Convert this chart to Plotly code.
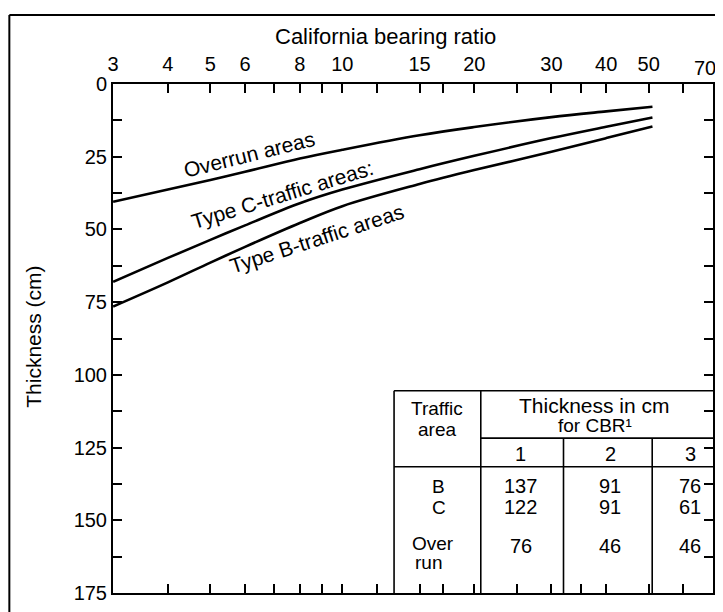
import math
import plotly.graph_objects as go

# ---------------- data ----------------
cbr = [3, 4, 5, 6, 8, 10, 15, 20, 30, 40, 51]
overrun = [40.5, 36.3, 33.0, 30.2, 25.6, 22.6, 17.6, 14.8, 11.4, 9.4, 7.8]
type_c = [68.0, 59.8, 53.6, 48.6, 41.0, 36.3, 29.3, 24.7, 18.6, 14.7, 11.5]
type_b = [76.5, 68.2, 61.4, 56.0, 47.8, 42.0, 34.4, 29.6, 23.3, 18.6, 14.6]

x_tickvals = [3, 4, 5, 6, 7, 8, 9, 10, 12, 15, 17, 20, 25, 30, 35, 40, 50, 60, 70]
x_labelled = [3, 4, 5, 6, 8, 10, 15, 20, 30, 40, 50, 70]
y_tickvals = [i * 12.5 for i in range(15)]
y_labelled = [0, 25, 50, 75, 100, 125, 150, 175]

table_areas = ["B", "C", "Over|run"]
table_cbr_cols = ["1", "2", "3"]
thick_cbr1 = [137, 122, 76]
thick_cbr2 = [91, 91, 46]
thick_cbr3 = [76, 61, 46]

# ---------------- layout helpers ----------------
# page (screenshot) pixel geometry; the page body adds an 8 px offset
OFF = 8
PAGE_W, PAGE_H = 723, 612
W, H = PAGE_W - OFF, PAGE_H - OFF
L, R, T, B = 113, 715, 84, 600  # plot area in page pixels


def px(x):
    return (x - L) / (R - L)


def py(y):
    return (B - y) / (B - T)


FONT = "Liberation Sans, Arial, sans-serif"

fig = go.Figure()
for ys in (overrun, type_c, type_b):
    fig.add_trace(go.Scatter(x=cbr, y=ys, mode="lines",
                             line=dict(color="black", width=2.6, shape="spline", smoothing=1.0),
                             showlegend=False, hoverinfo="skip"))

annotations = []


def txt(x, y, s, size=20, angle=0, xanchor="center"):
    annotations.append(dict(x=px(x), y=py(y), xref="paper", yref="paper", text=s,
                            showarrow=False, textangle=angle, xanchor=xanchor, yanchor="middle",
                            font=dict(size=size, family=FONT, color="black")))


# titles
txt(386, 36, "California bearing ratio", size=22)
annotations.append(dict(x=px(33), y=py(340), xref="paper", yref="paper", text="Thickness (cm)",
                        showarrow=False, textangle=-90, xanchor="center", yanchor="middle",
                        font=dict(size=21, family=FONT, color="black")))

# last top tick label sits against the right edge of the page: draw it nudged inward
last_label = x_labelled[-1]
txt(707, 68, str(last_label), size=20)

# curve labels
txt(249, 155, "Overrun areas", size=21, angle=-14)
txt(283, 196, "Type C-traffic areas:", size=21, angle=-17)
txt(318, 241, "Type B-traffic areas", size=21, angle=-18)

# table text
txt(438, 413, "Traffic", size=19)
txt(438, 434, "area", size=19)
txt(596, 410, "Thickness in cm", size=21)
txt(597, 430, "for CBR¹", size=19)
col_x = [522, 612, 692]
for cx, lab in zip(col_x, table_cbr_cols):
    txt(cx, 459, lab, size=20)
row_y = [492, 513, 552]
for ry, area, v1, v2, v3 in zip(row_y, table_areas, thick_cbr1, thick_cbr2, thick_cbr3):
    if "|" in area:
        a1, a2 = area.split("|")
        txt(434, 550, a1, size=19)
        txt(430, 569, a2, size=19)
    else:
        txt(440, ry, area, size=19)
    for cx, v in zip(col_x, (v1, v2, v3)):
        txt(cx, ry, str(v), size=20)

shapes = []


def line(x0, y0, x1, y1, w=1.6):
    shapes.append(dict(type="line", xref="paper", yref="paper", x0=px(x0), y0=py(y0),
                       x1=px(x1), y1=py(y1), line=dict(color="black", width=w)))


# table rules
line(395, 395, R, 395)
line(395, 395, 395, B)
line(482, 395, 482, B)
line(482, 443, R, 443)
line(395, 472, R, 472)
line(565, 443, 565, B)
line(654, 443, 654, B)

# outer frame of the figure
line(9, 14, 9, 640, w=2)
line(9, 14, 730, 14, w=2)

fig.update_layout(
    width=W, height=H,
    margin=dict(l=L - OFF, r=W - (R - OFF), t=T - OFF, b=H - (B - OFF), pad=0),
    paper_bgcolor="white", plot_bgcolor="white",
    font=dict(family=FONT, color="black", size=20),
    annotations=annotations, shapes=shapes,
    xaxis=dict(type="log", range=[math.log10(3) - 0.0003, math.log10(70) + 0.0006], side="top",
               tickvals=x_tickvals,
               ticktext=[str(v) if (v in x_labelled and v != last_label) else "" for v in x_tickvals],
               ticks="inside", ticklen=9, tickwidth=2, tickcolor="black",
               showline=True, linewidth=2, linecolor="black", mirror="ticks",
               showgrid=False, zeroline=False, tickfont=dict(size=20),
               ticklabelstandoff=3),
    yaxis=dict(range=[175, 0], tickvals=y_tickvals,
               ticktext=[str(int(v)) if v in y_labelled else "" for v in y_tickvals],
               ticks="inside", ticklen=9, tickwidth=2, tickcolor="black",
               showline=True, linewidth=2, linecolor="black", mirror="ticks",
               showgrid=False, zeroline=False, tickfont=dict(size=20)),
)

fig.write_html("out.html")
